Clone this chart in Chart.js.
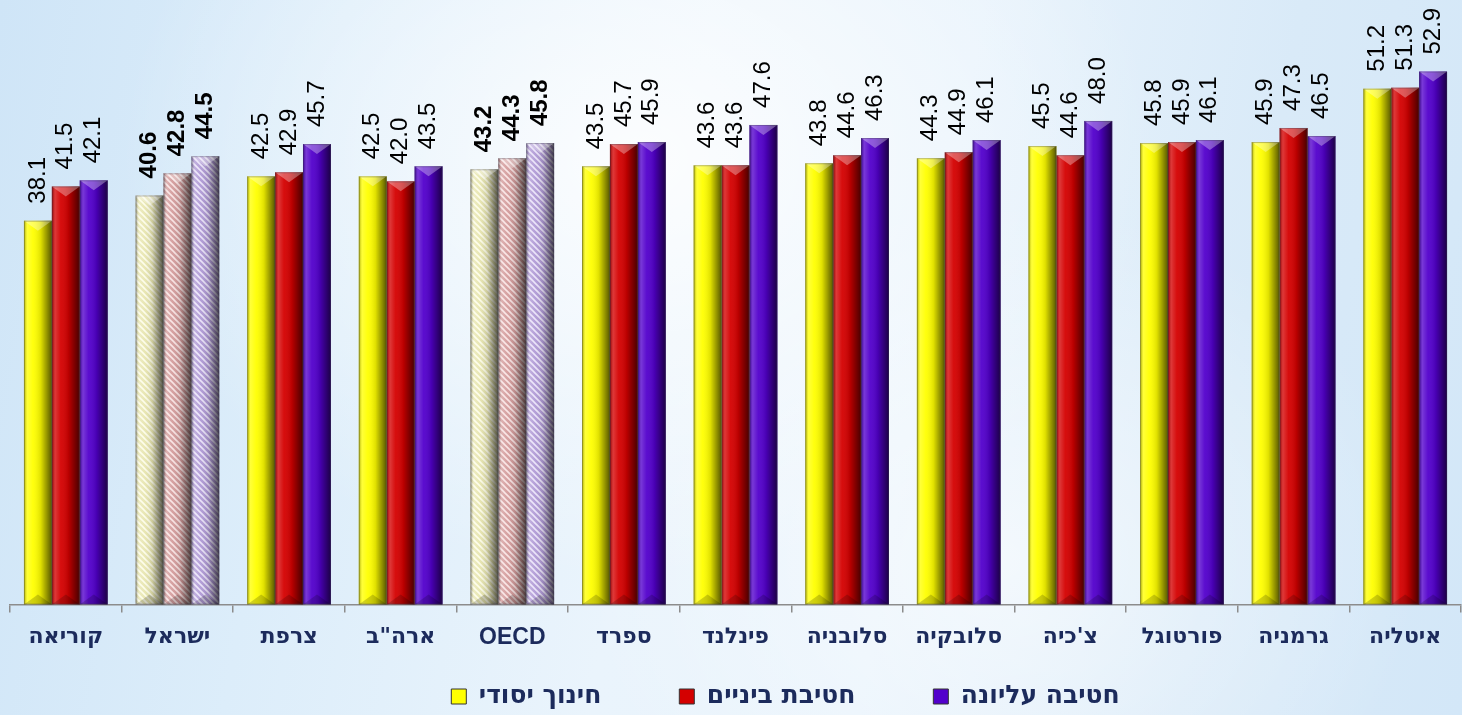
<!DOCTYPE html>
<html>
<head>
<meta charset="utf-8">
<script src="https://cdn.jsdelivr.net/npm/chart.js@4.4.1/dist/chart.umd.min.js"></script>
<style>
  html, body { margin: 0; padding: 0; width: 1462px; height: 715px; overflow: hidden; }
  body {
    background:
      radial-gradient(ellipse 520px 420px at 640px 160px, rgba(255,255,255,0.85), rgba(255,255,255,0) 100%),
      radial-gradient(ellipse 420px 360px at 1000px 560px, rgba(255,255,255,0.6), rgba(255,255,255,0) 100%),
      linear-gradient(100deg, #cfe5f7 0%, #dcedfa 22%, #eaf4fc 45%, #e8f3fc 62%, #d9eaf8 82%, #d3e7f8 100%);
  }
  #wrap { position: relative; width: 1462px; height: 715px; }
  canvas { display: block; }
</style>
</head>
<body>
<div id="wrap"><canvas id="chart" width="1462" height="715"></canvas></div>
<script>
// ---- data ----
const categories = ['קוריאה', 'ישראל', 'צרפת', 'ארה"ב', 'OECD', 'ספרד', 'פינלנד', 'סלובניה', 'סלובקיה', "צ'כיה", 'פורטוגל', 'גרמניה', 'איטליה'];
const primaryValues = [38.1, 40.6, 42.5, 42.5, 43.2, 43.5, 43.6, 43.8, 44.3, 45.5, 45.8, 45.9, 51.2];
const middleValues  = [41.5, 42.8, 42.9, 42.0, 44.3, 45.7, 43.6, 44.6, 44.9, 44.6, 45.9, 47.3, 51.3];
const upperValues   = [42.1, 44.5, 45.7, 43.5, 45.8, 45.9, 47.6, 46.3, 46.1, 48.0, 46.1, 46.5, 52.9];
const seriesLabels  = ['חינוך יסודי', 'חטיבת ביניים', 'חטיבה עליונה'];
const highlighted   = ['ישראל', 'OECD'];

const FONT = '"Liberation Sans", "DejaVu Sans", sans-serif';
const HEB_FONT = '"DejaVu Sans", "Liberation Sans", sans-serif';
const NAVY = '#1c2b5c';

function hatch(base, stripe) {
  const c = document.createElement('canvas');
  c.width = 6; c.height = 6;
  const g = c.getContext('2d');
  g.fillStyle = base; g.fillRect(0, 0, 6, 6);
  g.strokeStyle = stripe; g.lineWidth = 1.6;
  g.beginPath();
  g.moveTo(-1, -1); g.lineTo(7, 7);
  g.moveTo(-1, 5); g.lineTo(1, 7);
  g.moveTo(5, -1); g.lineTo(7, 1);
  g.stroke();
  return g.createPattern(c, 'repeat');
}

const solid = ['#ffff00', '#d40000', '#5200cc'];
const pale = [
  hatch('#e8e6b0', 'rgba(255,255,240,0.9)'),
  hatch('#d49c9c', 'rgba(255,240,240,0.85)'),
  hatch('#b09ad6', 'rgba(245,240,255,0.85)')
];

function fillFor(si) {
  return (ctx) => {
    if (ctx.dataIndex !== undefined && highlighted.includes(categories[ctx.dataIndex])) return pale[si];
    return solid[si];
  };
}

const seriesValues = [primaryValues, middleValues, upperValues];

const barShade = {
  id: 'barShade',
  afterDatasetsDraw(chart) {
    const ctx = chart.ctx;
    chart.data.datasets.forEach((ds, di) => {
      chart.getDatasetMeta(di).data.forEach((el) => {
        const { x, y, base, width } = el.getProps(['x', 'y', 'base', 'width'], true);
        const l = x - width / 2, r = x + width / 2, h = base - y;
        ctx.save();
        const g = ctx.createLinearGradient(l, 0, r, 0);
        g.addColorStop(0, 'rgba(0,0,0,0.32)');
        g.addColorStop(0.12, 'rgba(255,255,255,0.22)');
        g.addColorStop(0.32, 'rgba(255,255,255,0.05)');
        g.addColorStop(0.6, 'rgba(0,0,0,0.12)');
        g.addColorStop(1, 'rgba(0,0,0,0.66)');
        ctx.fillStyle = g;
        ctx.fillRect(l, y, width, h);
        const d = Math.min(10, h / 3);
        ctx.beginPath();
        ctx.moveTo(l, y); ctx.lineTo(r, y); ctx.lineTo(x, y + d); ctx.closePath();
        ctx.fillStyle = 'rgba(255,255,255,0.32)';
        ctx.fill();
        ctx.beginPath();
        ctx.moveTo(l, base); ctx.lineTo(r, base); ctx.lineTo(x, base - d); ctx.closePath();
        ctx.fillStyle = 'rgba(0,0,0,0.18)';
        ctx.fill();
        ctx.strokeStyle = 'rgba(60,60,80,0.35)';
        ctx.lineWidth = 1;
        ctx.strokeRect(l + 0.5, y + 0.5, width - 1, h - 1);
        ctx.restore();
      });
    });
  }
};

const valueLabels = {
  id: 'valueLabels',
  afterDatasetsDraw(chart) {
    const ctx = chart.ctx;
    chart.data.datasets.forEach((ds, di) => {
      chart.getDatasetMeta(di).data.forEach((el, i) => {
        const bold = highlighted.includes(categories[i]);
        ctx.save();
        ctx.font = (bold ? 'bold ' : '') + '24px ' + FONT;
        ctx.fillStyle = '#000';
        ctx.translate(el.x, el.y - 17);
        ctx.rotate(-Math.PI / 2);
        ctx.textAlign = 'left';
        ctx.textBaseline = 'middle';
        ctx.fillText(ds.data[i].toFixed(1), 0, 0);
        ctx.restore();
      });
    });
  }
};

const legendShift = {
  id: 'legendShift',
  afterLayout(chart) {
    const lg = chart.legend;
    if (lg) { lg.left += 50; lg.right += 50; lg.top += 4; lg.bottom += 4; }
  }
};

new Chart(document.getElementById('chart'), {
  type: 'bar',
  data: {
    labels: categories,
    datasets: seriesLabels.map((label, si) => ({
      label,
      data: seriesValues[si],
      backgroundColor: fillFor(si),
      borderWidth: 0,
      categoryPercentage: 0.75,
      barPercentage: 1.0
    }))
  },
  options: {
    responsive: false,
    animation: false,
    devicePixelRatio: 1,
    layout: { padding: { left: 10, right: 1, top: 0, bottom: 0 } },
    scales: {
      x: {
        grid: { display: true, offset: true, drawOnChartArea: false, drawTicks: true, tickLength: 8, color: '#8c8c8c', lineWidth: 1.5 },
        border: { display: true, color: '#8c8c8c', width: 1.5 },
        ticks: {
          color: NAVY,
          font: (ctx) => (categories[ctx.index] === 'OECD'
            ? { family: FONT, size: 23, weight: 'bold', lineHeight: 1.15 }
            : { family: HEB_FONT, size: 22, weight: 'bold', lineHeight: 1.2 }),
          padding: 12, maxRotation: 0, autoSkip: false
        }
      },
      y: { display: false, min: 0, max: 60 }
    },
    plugins: {
      tooltip: { enabled: false },
      legend: {
        position: 'bottom',
        labels: {
          color: NAVY,
          font: { family: HEB_FONT, size: 25, weight: 'bold' },
          boxWidth: 15,
          boxHeight: 15,
          padding: 17,
          generateLabels(chart) {
            const items = Chart.defaults.plugins.legend.labels.generateLabels(chart);
            items.forEach((it, i) => {
              it.fillStyle = solid[i];
              it.strokeStyle = '#333';
              it.lineWidth = 1;
              if (i < items.length - 1) it.text = it.text + '       ';
            });
            return items;
          }
        }
      }
    }
  },
  plugins: [barShade, valueLabels, legendShift]
});
</script>
</body>
</html>
